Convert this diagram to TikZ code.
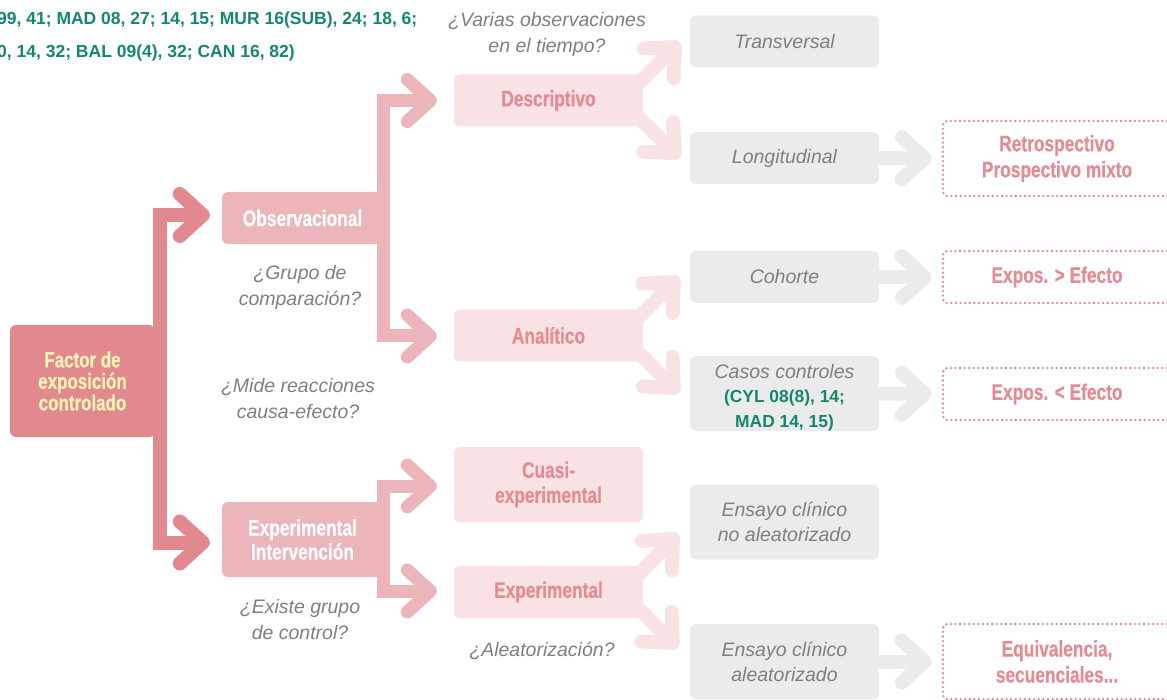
\documentclass[tikz,border=0pt]{standalone}
\usepackage{fontspec}
\setmainfont{Liberation Sans}
\newfontfamily\condfont[FakeStretch=0.77, FakeBold=0.5]{Liberation Sans Bold}
\usetikzlibrary{arrows.meta}
\definecolor{DARKPINK}{HTML}{E1898F}
\definecolor{MIDPINK}{HTML}{EBB5B9}
\definecolor{LIGHTPINK}{HTML}{F8E2E4}
\definecolor{PINKTEXT}{HTML}{E38C94}
\definecolor{GRAYFILL}{HTML}{EBEBEB}
\definecolor{GRAYTEXT}{HTML}{7F7F7F}
\definecolor{REFGREEN}{HTML}{14876F}
\definecolor{CREAM}{HTML}{FFF3B5}
\newcommand\greenref{\upshape\bfseries\color{REFGREEN}\fontsize{17.4}{21}\selectfont}
\begin{document}
\begin{tikzpicture}
[
 x=1pt, y=-1pt,
 inner sep=0pt,
 ROOTBOX/.style={rectangle, rounded corners=6pt, fill=DARKPINK, text=CREAM, align=center, minimum width=145pt, minimum height=112pt, font=\condfont\fontsize{22}{21.5}\selectfont},
 TYPEBOX/.style={rectangle, rounded corners=6pt, fill=MIDPINK, text=white, align=center, minimum width=161pt, font=\condfont\fontsize{22.5}{24}\selectfont},
 SUBBOX/.style={rectangle, rounded corners=6pt, fill=LIGHTPINK, text=PINKTEXT, align=center, minimum width=189pt, font=\condfont\fontsize{22.5}{25}\selectfont},
 DESIGNBOX/.style={rectangle, rounded corners=6pt, fill=GRAYFILL, text=GRAYTEXT, align=center, minimum width=189pt, font=\itshape\fontsize{19.5}{25}\selectfont},
 NOTEBOX/.style={rectangle, rounded corners=4pt, draw=DARKPINK, line width=2.6pt, dash pattern=on 0pt off 4.6pt, line cap=round, text=PINKTEXT, align=center, minimum width=228pt, font=\condfont\fontsize{22.5}{26}\selectfont},
 QUEST/.style={text=GRAYTEXT, align=center, font=\itshape\fontsize{19.5}{26}\selectfont},
 REFS/.style={text=REFGREEN, anchor=west, font=\bfseries\fontsize{17.5}{21}\selectfont},
 SHORT/.style={minimum height=52pt},
 TALL/.style={minimum height=75pt},
 HEAD/.style={-{Straight Barb[length=23pt, width=42pt, round]}},
 ARRA/.style={HEAD, draw=DARKPINK, line width=14pt},
 ARRB/.style={HEAD, draw=MIDPINK, line width=13pt},
 ARRC/.style={HEAD, draw=LIGHTPINK, line width=14pt},
 ARRD/.style={HEAD, draw=GRAYFILL, line width=14pt},
]
\useasboundingbox (0,0) rectangle (1167,700);
%
\node [REFS]  (R1)  at ( -3, 20)  {99, 41; MAD 08, 27; 14, 15; MUR 16(SUB), 24; 18, 6;};
\node [REFS]  (R2)  at ( -3, 53)  {0, 14, 32; BAL 09(4), 32; CAN 16, 82)};
%
\node [ROOTBOX]          (FAC)  at ( 82.5, 381)  {Factor de\\exposición\\controlado};
%
\node [TYPEBOX, SHORT]   (OBS)  at ( 302.5, 218)  {Observacional};
\node [TYPEBOX, TALL]    (EXP)  at ( 302.5, 539.5)  {Experimental\\Intervención};
%
\node [SUBBOX, SHORT]    (DES)  at ( 548.5, 100.5)  {Descriptivo};
\node [SUBBOX, SHORT]    (ANA)  at ( 548.5, 335.5)  {Analítico};
\node [SUBBOX, TALL]     (CUA)  at ( 548.5, 484.5)  {Cuasi-\\experimental};
\node [SUBBOX, SHORT]    (EXE)  at ( 548.5, 592)  {Experimental};
%
\node [DESIGNBOX, SHORT] (TRA)  at ( 784.5, 41.5)  {Transversal};
\node [DESIGNBOX, SHORT] (LON)  at ( 784.5, 158)  {Longitudinal};
\node [DESIGNBOX, SHORT] (COH)  at ( 784.5, 277)  {Cohorte};
\node [DESIGNBOX, TALL]  (CAS)  at ( 784.5, 393.5)  {\raisebox{0pt}[22pt]{Casos controles}\\[-1pt]\greenref (CYL 08(8), 14;\\\greenref MAD 14, 15)};
\node [DESIGNBOX, TALL]  (ENA)  at ( 784.5, 522)  {Ensayo clínico\\no aleatorizado};
\node [DESIGNBOX, TALL]  (EAL)  at ( 784.5, 661.5)  {Ensayo clínico\\aleatorizado};
%
\node [NOTEBOX, TALL]    (RET)  at ( 1057, 158.5)  {Retrospectivo\\Prospectivo mixto};
\node [NOTEBOX, SHORT]   (MAY)  at ( 1057, 277)  {Expos. > Efecto};
\node [NOTEBOX, SHORT]   (MEN)  at ( 1057, 394)  {Expos. < Efecto};
\node [NOTEBOX, TALL]    (EQU)  at ( 1057, 661.5)  {Equivalencia,\\secuenciales...};
%
\node [QUEST]  (QVA)  at ( 547, 34)  {¿Varias observaciones\\en el tiempo?};
\node [QUEST]  (QGR)  at ( 300, 287)  {¿Grupo de\\comparación?};
\node [QUEST]  (QMI)  at ( 298, 398.5)  {¿Mide reacciones\\causa-efecto?};
\node [QUEST]  (QEX)  at ( 300, 619.5)  {¿Existe grupo\\de control?};
\node [QUEST]  (QAL)  at ( 542, 651)  {¿Aleatorización?};
%
\draw [ARRA]  ([shift={(5,0)}]FAC.east)  |- ([shift={(-12,-3)}]OBS.west);
\draw [ARRA]  ([shift={(5,0)}]FAC.east)  |- ([shift={(-12,3)}]EXP.west);
%
\draw [ARRB]  (OBS.east)  |- ([shift={(-17,0)}]DES.west);
\draw [ARRB]  (OBS.east)  |- ([shift={(-17,0.5)}]ANA.west);
\draw [ARRB]  (EXP.east)  |- ([shift={(-17,1.5)}]CUA.west);
\draw [ARRB]  (EXP.east)  |- ([shift={(-17,-1)}]EXE.west);
%
\draw [ARRC]  ([shift={(-7,-14.5)}]DES.east)  -- ([shift={(-10,0.5)}]TRA.west);
\draw [ARRC]  ([shift={(-7,14.5)}]DES.east)   -- ([shift={(-10,0)}]LON.west);
\draw [ARRC]  ([shift={(-7,-15.5)}]ANA.east)  -- ([shift={(-11,0)}]COH.west);
\draw [ARRC]  ([shift={(-7,14.5)}]ANA.east)   -- ([shift={(-11,-0.5)}]CAS.west);
\draw [ARRC]  ([shift={(-7,-15)}]EXE.east)    -- ([shift={(-12,12)}]ENA.west);
\draw [ARRC]  ([shift={(-7,14)}]EXE.east)     -- ([shift={(-12,-13.5)}]EAL.west);
%
\draw [ARRD]  (LON.east)  -- ([shift={(-10,0)}]RET.west);
\draw [ARRD]  (COH.east)  -- ([shift={(-10,0)}]MAY.west);
\draw [ARRD]  (CAS.east)  -- ([shift={(-10,0)}]MEN.west);
\draw [ARRD]  (EAL.east)  -- ([shift={(-10,0)}]EQU.west);
\end{tikzpicture}
\end{document}
